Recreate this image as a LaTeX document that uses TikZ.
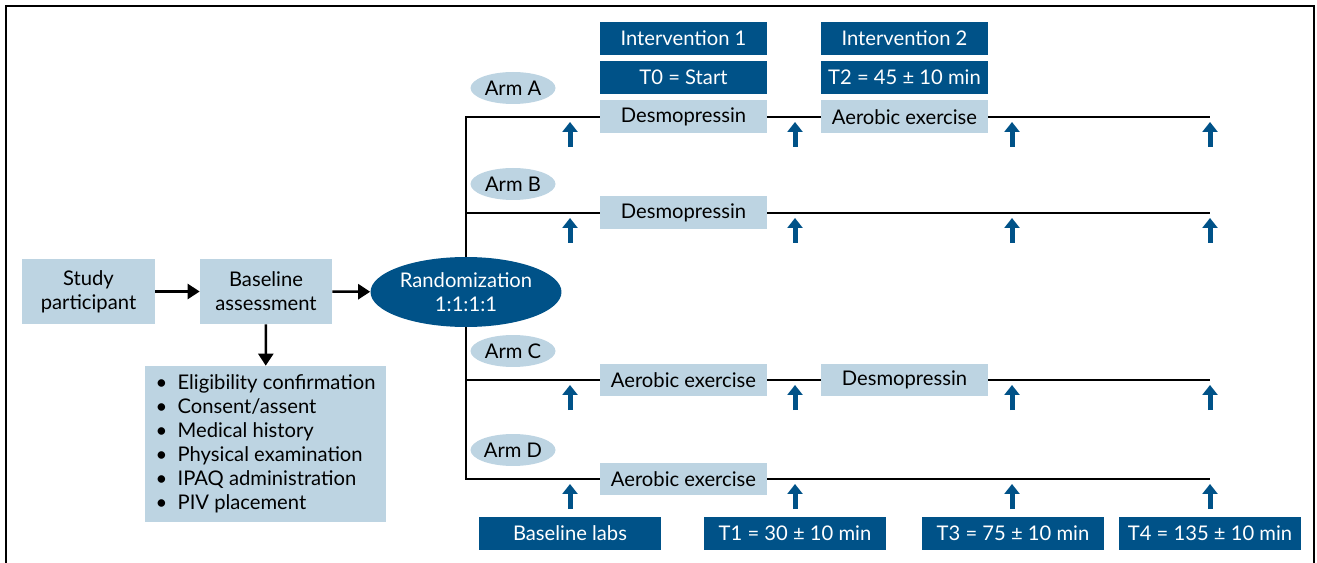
\documentclass[tikz,border=0pt]{standalone}
\usepackage{fontspec}
\setmainfont{Lato}
\usetikzlibrary{arrows.meta,shapes.geometric}

\definecolor{trialblue}{HTML}{005288}
\definecolor{paleblue}{HTML}{BDD4E2}

\begin{document}
\begin{tikzpicture}[x=0.02cm, y=-0.02cm, font=\fontsize{11.5}{13.6}\selectfont,
  lightbox/.style={fill=paleblue, minimum width=3.34cm, minimum height=0.66cm, inner sep=0pt},
  darkbox/.style={fill=trialblue, text=white, minimum width=3.34cm, minimum height=0.66cm, inner sep=0pt},
  armtag/.style={ellipse, fill=paleblue, minimum width=1.7cm, minimum height=0.64cm, inner sep=0pt},
  flow/.style={line width=1.4pt, -{Triangle[width=0.3cm,length=0.24cm]}},
  armline/.style={line width=1.3pt},
  tick/.style={line width=0.1cm, trialblue, -{Triangle[width=0.3cm,length=0.2cm]}}]
  % fixes the page to the reference size
  \useasboundingbox (0,0) rectangle (1317,563);

  % outer frame (open at the bottom)
  \draw[line width=1.3pt] (6,563) -- (6,6) -- (1314,6) -- (1314,563);

  % enrolment
  \node[lightbox, minimum width=2.66cm, minimum height=1.3cm, align=center] (study) at (88.5,291.5) {Study\\participant};
  \node[lightbox, minimum width=2.64cm, minimum height=1.3cm, align=center] (base) at (266,291.5) {Baseline\\assessment};
  \node[lightbox, minimum width=4.82cm, minimum height=3.12cm, align=left] (checks) at (265.5,444)
    {\textbullet\ \ Eligibility confirmation\\
     \textbullet\ \ Consent/assent\\
     \textbullet\ \ Medical history\\
     \textbullet\ \ Physical examination\\
     \textbullet\ \ IPAQ administration\\
     \textbullet\ \ PIV placement};
  \node[ellipse, fill=trialblue, text=white, minimum width=3.82cm, minimum height=1.4cm, inner sep=0pt, align=center] (rand) at (466,292) {Randomization\\1:1:1:1};

  \draw[flow] (study) -- (base);
  \draw[flow] (base) -- (rand);
  \draw[flow] (base) -- (checks);

  % arms
  \foreach \arm/\y in {A/117, B/213, C/380, D/479} {
    \coordinate (split\arm) at (466,\y);
    \coordinate (end\arm) at (1210,\y);
    \node[armtag] (tag\arm) at (513,\y-29) {Arm \arm};
  }

  % interventions
  \node[darkbox] (int1) at (683.5,38.5) {Intervention 1};
  \node[darkbox] (t0) at (683.5,77.5) {T0 = Start};
  \node[darkbox] (int2) at (904.5,38.5) {Intervention 2};
  \node[darkbox] (t2) at (904.5,77.5) {T2 = 45 ± 10 min};

  \node[lightbox] (a1) at (683.5,117) {Desmopressin};
  \node[lightbox] (a2) at (904.5,117) {Aerobic exercise};
  \node[lightbox] (b1) at (683.5,213) {Desmopressin};
  \node[lightbox] (c1) at (683.5,380) {Aerobic exercise};
  \node[lightbox] (c2) at (904.5,380) {Desmopressin};
  \node[lightbox] (d1) at (683.5,479) {Aerobic exercise};

  \draw[armline] (rand) -- (splitA) -- (a1) -- (a2) -- (endA);
  \draw[armline] (rand) -- (splitB) -- (b1) -- (endB);
  \draw[armline] (rand) -- (splitC) -- (c1) -- (c2) -- (endC);
  \draw[armline] (rand) -- (splitD) -- (d1) -- (endD);

  % blood draws
  \foreach \y in {117, 213, 380, 479}
    \foreach \x in {570, 795, 1012, 1210}
      \draw[tick] (\x,\y+30) -- (\x,\y+5);

  \node[darkbox, minimum width=3.64cm] (labs) at (570,533.5) {Baseline labs};
  \node[darkbox, minimum width=3.64cm] (t1) at (795,533.5) {T1 = 30 ± 10 min};
  \node[darkbox, minimum width=3.64cm] (t3) at (1013,533.5) {T3 = 75 ± 10 min};
  \node[darkbox, minimum width=3.64cm] (t4) at (1210,533.5) {T4 = 135 ± 10 min};
\end{tikzpicture}
\end{document}
